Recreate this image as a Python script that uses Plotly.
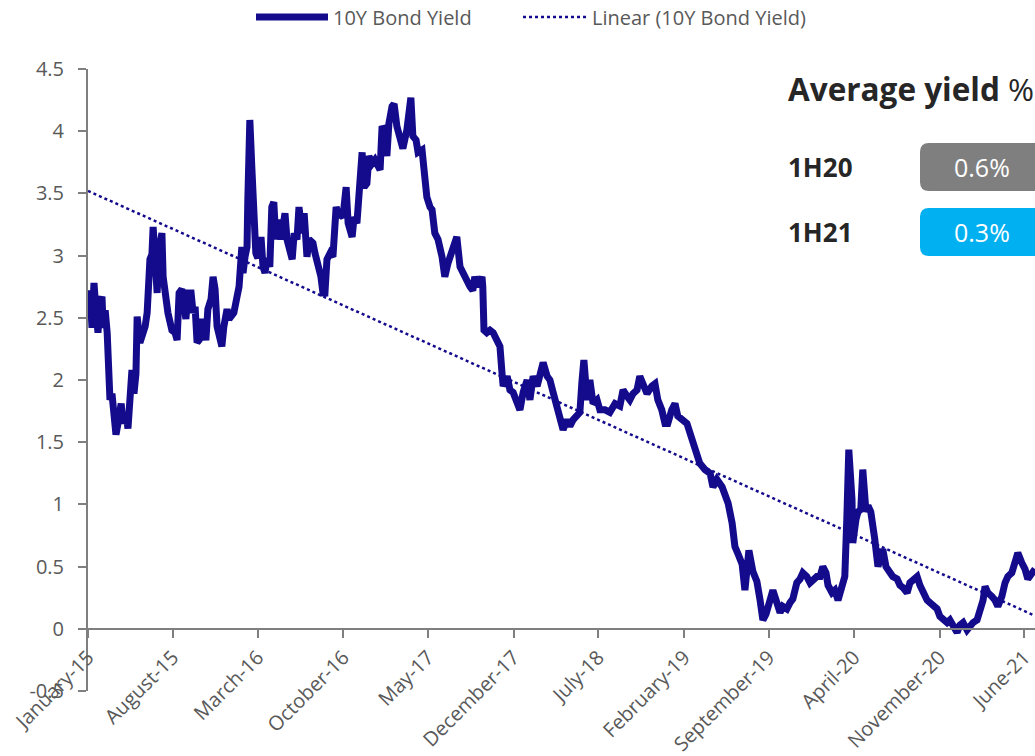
import numpy as np
import pandas as pd
import plotly.graph_objects as go

# ---------------- data ----------------
start_date = "2015-01-01"
day_offsets = [0, 5, 10, 15, 20, 25, 30, 35, 38, 43, 48, 50, 55, 60, 63, 70, 75, 83, 88, 95,
               100, 105, 110, 115, 120, 123, 130, 138, 143, 148, 150, 155, 160, 163, 168, 173, 178, 185, 188, 195,
               200, 210, 218, 223, 228, 235, 240, 245, 250, 258, 263, 268, 273, 278, 285, 290, 295, 300, 308, 313,
               318, 323, 328, 335, 340, 348, 353, 360, 365, 373, 378, 385, 388, 393, 398, 400, 405, 410, 413, 418,
               420, 425, 433, 438, 443, 448, 455, 460, 465, 470, 475, 483, 488, 493, 498, 503, 511, 516, 523, 528,
               536, 541, 548, 553, 563, 568, 576, 583, 588, 593, 598, 606, 613, 621, 626, 633, 638, 646, 651, 661,
               666, 673, 678, 686, 691, 698, 703, 711, 718, 723, 731, 736, 741, 748, 753, 761, 766, 773, 778, 786,
               788, 798, 803, 808, 813, 821, 826, 836, 841, 848, 856, 861, 868, 876, 886, 893, 901, 911, 918, 923,
               931, 938, 948, 956, 963, 968, 976, 986, 988, 991, 998, 1006, 1014, 1024, 1031, 1036, 1039, 1049, 1056, 1064,
               1074, 1081, 1089, 1099, 1106, 1114, 1124, 1131, 1139, 1149, 1156, 1164, 1174, 1181, 1189, 1199, 1206, 1214, 1224, 1231,
               1236, 1241, 1249, 1256, 1264, 1274, 1281, 1294, 1306, 1319, 1331, 1339, 1349, 1356, 1364, 1374, 1381, 1389, 1399, 1411,
               1419, 1426, 1436, 1444, 1451, 1461, 1469, 1476, 1486, 1499, 1507, 1514, 1524, 1531, 1544, 1557, 1564, 1574, 1587, 1594,
               1602, 1612, 1619, 1627, 1637, 1644, 1649, 1654, 1664, 1674, 1682, 1689, 1697, 1707, 1714, 1724, 1732, 1739, 1749, 1757,
               1764, 1774, 1782, 1789, 1799, 1807, 1814, 1824, 1832, 1839, 1847, 1852, 1862, 1869, 1877, 1887, 1894, 1899, 1904, 1912,
               1914, 1922, 1927, 1934, 1939, 1947, 1952, 1959, 1964, 1969, 1977, 1984, 1989, 1997, 2007, 2014, 2025, 2032, 2040, 2050,
               2057, 2065, 2075, 2082, 2090, 2100, 2107, 2115, 2125, 2132, 2140, 2150, 2157, 2165, 2175, 2182, 2190, 2200, 2207, 2215,
               2225, 2232, 2240, 2245, 2252, 2262, 2270, 2277, 2287, 2295, 2302, 2312, 2320, 2327, 2337, 2345, 2352, 2362, 2370]
yields = [2.55, 2.72, 2.42, 2.78, 2.55, 2.38, 2.62, 2.67, 2.42, 2.56, 2.38, 2.22, 1.84, 1.89, 1.74, 1.56, 1.65, 1.81, 1.65, 1.74,
          1.61, 2.00, 2.08, 1.89, 2.05, 2.51, 2.30, 2.38, 2.43, 2.54, 2.86, 2.97, 3.01, 3.23, 2.97, 2.70, 3.05, 3.18, 2.83, 2.65,
          2.54, 2.40, 2.38, 2.32, 2.70, 2.73, 2.54, 2.49, 2.70, 2.70, 2.54, 2.59, 2.30, 2.32, 2.49, 2.38, 2.32, 2.57, 2.65, 2.83,
          2.73, 2.43, 2.38, 2.27, 2.43, 2.57, 2.49, 2.51, 2.54, 2.67, 2.75, 3.07, 2.86, 2.99, 3.07, 3.45, 4.09, 3.71, 3.50, 3.45,
          3.02, 2.98, 3.15, 2.91, 2.86, 2.98, 2.91, 3.39, 3.43, 3.13, 3.29, 3.13, 3.31, 3.34, 3.13, 3.07, 2.97, 3.18, 3.13, 3.39,
          3.18, 3.34, 2.99, 3.13, 3.10, 3.02, 2.94, 2.83, 2.70, 2.70, 2.97, 3.02, 2.99, 3.39, 3.34, 3.31, 3.31, 3.55, 3.26, 3.15,
          3.31, 3.26, 3.47, 3.83, 3.55, 3.58, 3.80, 3.74, 3.77, 3.74, 3.69, 4.04, 4.01, 3.80, 4.06, 4.20, 4.22, 4.04, 3.98, 3.93,
          3.86, 4.01, 4.20, 4.27, 3.96, 3.93, 3.83, 3.85, 3.69, 3.47, 3.39, 3.37, 3.18, 3.13, 2.99, 2.83, 2.94, 3.05, 3.13, 3.15,
          2.91, 2.86, 2.81, 2.75, 2.72, 2.83, 2.75, 2.83, 2.75, 2.40, 2.38, 2.40, 2.38, 2.32, 2.27, 2.06, 1.95, 2.03, 1.92, 1.90,
          1.81, 1.76, 1.90, 2.00, 1.84, 2.03, 1.95, 2.06, 2.14, 2.03, 2.00, 1.90, 1.79, 1.68, 1.60, 1.68, 1.63, 1.68, 1.71, 1.74,
          1.98, 2.16, 1.84, 2.00, 1.81, 1.84, 1.76, 1.76, 1.74, 1.81, 1.79, 1.92, 1.87, 1.84, 1.89, 1.92, 2.03, 1.97, 1.89, 1.95,
          1.97, 1.84, 1.76, 1.65, 1.65, 1.76, 1.81, 1.71, 1.68, 1.65, 1.57, 1.50, 1.44, 1.33, 1.28, 1.25, 1.14, 1.20, 1.14, 1.09,
          1.01, 0.85, 0.66, 0.60, 0.52, 0.31, 0.48, 0.63, 0.46, 0.38, 0.23, 0.07, 0.12, 0.25, 0.31, 0.21, 0.13, 0.18, 0.16, 0.21,
          0.24, 0.37, 0.40, 0.45, 0.42, 0.37, 0.40, 0.42, 0.42, 0.50, 0.45, 0.35, 0.29, 0.31, 0.23, 0.35, 0.42, 0.88, 1.44, 1.04,
          0.69, 0.88, 0.94, 0.96, 1.28, 0.94, 0.99, 0.94, 0.85, 0.72, 0.50, 0.61, 0.64, 0.50, 0.45, 0.42, 0.40, 0.35, 0.33, 0.29,
          0.37, 0.40, 0.42, 0.35, 0.29, 0.23, 0.21, 0.18, 0.16, 0.10, 0.07, 0.05, 0.07, 0.02, -0.03, 0.03, 0.05, -0.01, 0.02, 0.05,
          0.07, 0.13, 0.23, 0.34, 0.29, 0.26, 0.23, 0.18, 0.26, 0.37, 0.42, 0.45, 0.53, 0.61, 0.53, 0.48, 0.40, 0.45, 0.48]

# linear trend line (start / right-edge values)
trend_day_offsets = [0, 2370]
trend_values = [3.52, 0.105]

tick_dates = ["2015-01-01", "2015-08-01", "2016-03-01", "2016-10-01", "2017-05-01", "2017-12-01",
              "2018-07-01", "2019-02-01", "2019-09-01", "2020-04-01", "2020-11-01", "2021-06-01"]
tick_labels = ["January-15", "August-15", "March-16", "October-16", "May-17", "December-17",
               "July-18", "February-19", "September-19", "April-20", "November-20", "June-21"]
y_ticks = [-0.5, 0, 0.5, 1, 1.5, 2, 2.5, 3, 3.5, 4, 4.5]
y_tick_labels = ["-0.5", "0", "0.5", "1", "1.5", "2", "2.5", "3", "3.5", "4", "4.5"]

avg_labels = ["1H20", "1H21"]
avg_values = ["0.6%", "0.3%"]
avg_colors = ["#7F7F7F", "#00B0F0"]

# ---------------- derived ----------------
t0 = pd.Timestamp(start_date)
dates = [t0 + pd.Timedelta(days=d) for d in day_offsets]
trend_dates = [t0 + pd.Timedelta(days=d) for d in trend_day_offsets]
x_end = t0 + pd.Timedelta(days=day_offsets[-1])

NAVY = "#130B8C"
GREY_TXT = "#595959"
AXIS = "#7F7F7F"

W, H = 1035, 756
L, R, T, B = 88, 0, 69, 65
pw, ph = W - L - R, H - T - B


def px(x):
    return (x - L) / pw


def py(y):
    return (H - B - y) / ph


fig = go.Figure()
fig.add_trace(go.Scatter(x=dates, y=yields, mode="lines", name="10Y Bond Yield",
                         line=dict(color=NAVY, width=7), legend="legend"))
fig.add_trace(go.Scatter(x=trend_dates, y=trend_values, mode="lines", name="Linear (10Y Bond Yield)",
                         line=dict(color=NAVY, width=2.5, dash="dot"), legend="legend2"))

legend_font = dict(family="Open Sans, sans-serif", size=20, color=GREY_TXT)
fig.update_layout(
    width=W, height=H,
    margin=dict(l=L, r=R, t=T, b=B, autoexpand=False),
    plot_bgcolor="white", paper_bgcolor="white",
    font=dict(family="Open Sans, sans-serif", color=GREY_TXT),
    showlegend=True,
    legend=dict(orientation="h", x=px(251), xanchor="left", y=py(17), yanchor="middle",
                font=legend_font, itemwidth=72, bgcolor="rgba(0,0,0,0)"),
    legend2=dict(orientation="h", x=px(518), xanchor="left", y=py(17), yanchor="middle",
                 font=legend_font, itemwidth=64, bgcolor="rgba(0,0,0,0)"),
    xaxis=dict(type="date", range=[t0, x_end],
               tickvals=tick_dates, ticktext=tick_labels, tickangle=-45,
               showline=True, linecolor=AXIS, linewidth=2, ticks="outside", ticklen=8,
               tickcolor=AXIS, tickwidth=2, showgrid=False, zeroline=False,
               anchor="free", position=0.1, automargin=False, ticklabeloverflow="allow",
               tickfont=dict(size=20, color=GREY_TXT)),
    yaxis=dict(range=[-0.5, 4.5], tickvals=y_ticks, ticktext=y_tick_labels,
               showline=True, linecolor=AXIS, linewidth=2, ticks="outside", ticklen=8,
               tickcolor=AXIS, tickwidth=2, showgrid=False, zeroline=False, automargin=False,
               ticklabelstandoff=10, ticklabeloverflow="allow",
               tickfont=dict(size=20, color=GREY_TXT)),
)

# Average yield panel
fig.add_annotation(xref="paper", yref="paper", x=px(786), y=py(88), xanchor="left", yanchor="middle",
                   text="<b>Average yield</b> %", showarrow=False,
                   font=dict(family="Open Sans, sans-serif", size=31.5, color="#262626"))

box_tops = [143, 208]
box_h = 48
rx, ry = 9 / pw, 9 / ph
for i, (lab, val, col) in enumerate(zip(avg_labels, avg_values, avg_colors)):
    top = box_tops[i]
    x0, x1 = px(920), px(1060)
    y1, y0 = py(top), py(top + box_h)
    path = (f"M {x0+rx},{y0} L {x1},{y0} L {x1},{y1} L {x0+rx},{y1} "
            f"Q {x0},{y1} {x0},{y1-ry} L {x0},{y0+ry} Q {x0},{y0} {x0+rx},{y0} Z")
    fig.add_shape(type="path", xref="paper", yref="paper", path=path,
                  fillcolor=col, line=dict(width=0), layer="above")
    yc = py(top + box_h / 2)
    fig.add_annotation(xref="paper", yref="paper", x=px(786), y=yc, xanchor="left", yanchor="middle",
                       text=f"<b>{lab}</b>", showarrow=False,
                       font=dict(family="Open Sans, sans-serif", size=26, color="#262626"))
    fig.add_annotation(xref="paper", yref="paper", x=px(982), y=yc, xanchor="center", yanchor="middle",
                       text=val, showarrow=False,
                       font=dict(family="Open Sans, sans-serif", size=25, color="white"))

fig.write_html("out.html", config={"displayModeBar": False},
               post_script="document.body.style.margin='0';document.body.style.overflow='hidden';")
